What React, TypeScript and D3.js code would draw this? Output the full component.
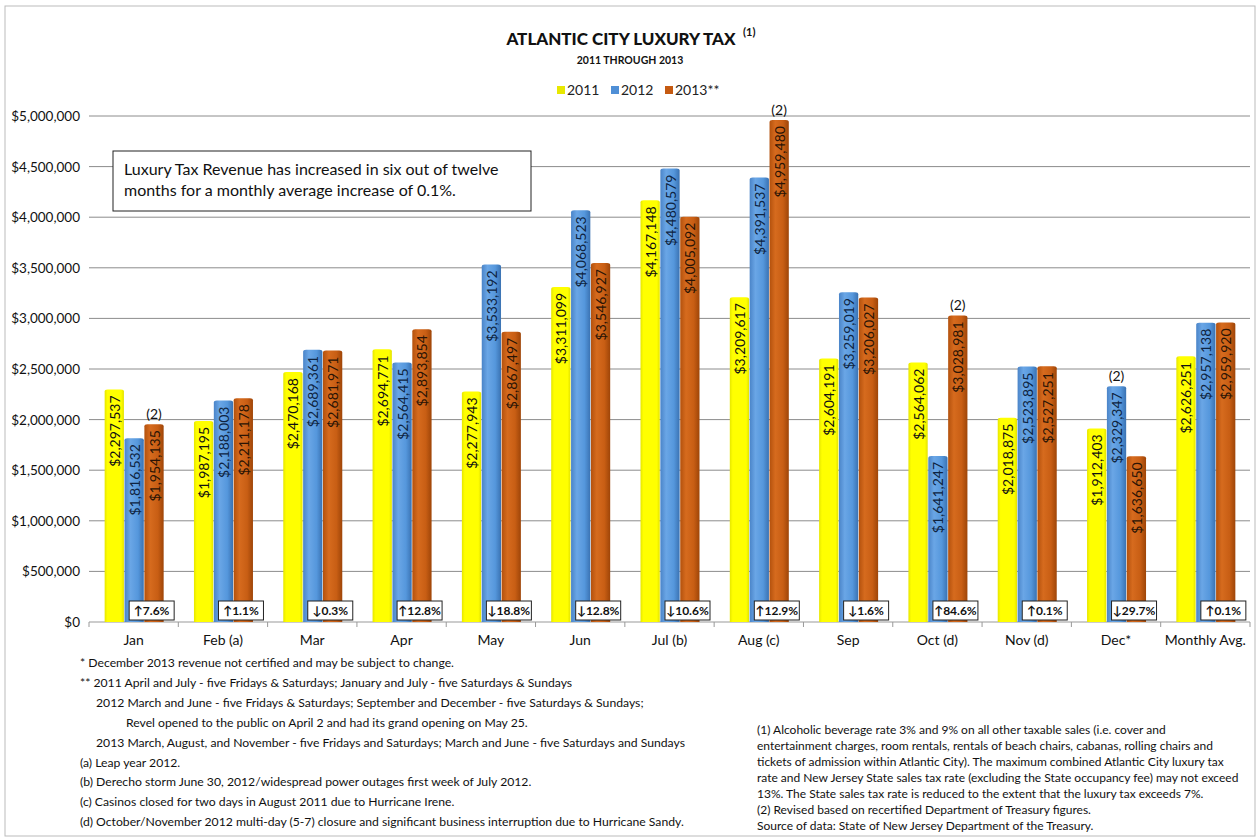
import * as d3 from 'd3';

const categories = ['Jan', 'Feb (a)', 'Mar', 'Apr', 'May', 'Jun', 'Jul (b)', 'Aug (c)', 'Sep', 'Oct (d)', 'Nov  (d)', 'Dec*', 'Monthly Avg.'];
const years = ['2011', '2012', '2013'];
const legendLabels = ['2011', '2012', '2013**'];
const values2011 = [2297537, 1987195, 2470168, 2694771, 2277943, 3311099, 4167148, 3209617, 2604191, 2564062, 2018875, 1912403, 2626251];
const values2012 = [1816532, 2188003, 2689361, 2564415, 3533192, 4068523, 4480579, 4391537, 3259019, 1641247, 2523895, 2329347, 2957138];
const values2013 = [1954135, 2211178, 2681971, 2893854, 2867497, 3546927, 4005092, 4959480, 3206027, 3028981, 2527251, 1636650, 2959920];
const changes = ['↑7.6%', '↑1.1%', '↓0.3%', '↑12.8%', '↓18.8%', '↓12.8%', '↓10.6%', '↑12.9%', '↓1.6%', '↑84.6%', '↑0.1%', '↓29.7%', '↑0.1%'];
// [category index, year index] of figures revised (2)
const revised = [[0, 2], [7, 2], [9, 2], [11, 1]];
const yTicks = d3.range(0, 5000001, 500000);

const notesLeft = [
  { x: 80, t: '* December 2013  revenue not certified and may be subject to change.' },
  { x: 80, t: '** 2011  April and July - five Fridays & Saturdays; January and July - five Saturdays & Sundays' },
  { x: 96, t: '2012  March  and June - five Fridays & Saturdays; September and December - five Saturdays & Sundays;' },
  { x: 126, t: 'Revel opened to the public on April 2 and had its grand opening on May 25.' },
  { x: 96, t: '2013  March, August, and November - five Fridays and Saturdays; March  and June - five Saturdays and Sundays' },
  { x: 80, t: '(a) Leap year 2012.' },
  { x: 80, t: '(b) Derecho storm June 30, 2012/widespread power outages first week of July 2012.' },
  { x: 80, t: '(c) Casinos closed for two days in August 2011  due to Hurricane Irene.' },
  { x: 80, t: '(d) October/November 2012  multi-day (5-7) closure and significant business interruption due to Hurricane Sandy.' },
];
const notesRight = [
  '(1) Alcoholic beverage rate 3% and 9% on all other taxable sales (i.e. cover and',
  'entertainment charges, room rentals, rentals of beach chairs, cabanas, rolling chairs and',
  'tickets of admission within Atlantic City). The maximum combined Atlantic City luxury tax',
  'rate and New Jersey State sales tax rate (excluding the State occupancy  fee) may not exceed',
  '13%.  The State sales tax rate is reduced to the extent that the luxury tax exceeds 7%.',
  '(2) Revised based on recertified Department of Treasury figures.',
  'Source of data:  State of New Jersey Department of the Treasury.',
];

const W = 1260;
const H = 838;
const FONT = 'Lato, "Open Sans", sans-serif';

export default function App() {
  const series = [values2011, values2012, values2013];
  const x = d3.scaleBand().domain(categories).range([89, 1250]);
  const y = d3.scaleLinear().domain([0, 5000000]).range([622, 116]);
  const inner = d3.scaleBand().domain(years).range([-29, 30]).paddingInner(0.03);
  const fmt = d3.format(',');
  const fills = ['url(#gY)', 'url(#gB)', 'url(#gO)'];
  const labelColors = ['#111', '#0e2441', '#2a1405'];
  const legendColors = ['#e8e800', '#4f8fd6', '#c55a11'];
  const legendX = [557, 611, 665];

  return (
    <svg width={W} height={H} style={{ position: 'absolute', left: 0, top: 0, background: '#fff', whiteSpace: 'pre' }} fontFamily={FONT}>
      <defs>
        <linearGradient id="gY" x1="0" x2="1" y1="0" y2="0">
          <stop offset="0" stopColor="#e6e600" />
          <stop offset="0.15" stopColor="#ffff00" />
          <stop offset="0.85" stopColor="#ffff00" />
          <stop offset="1" stopColor="#e2e200" />
        </linearGradient>
        <linearGradient id="gB" x1="0" x2="1" y1="0" y2="0">
          <stop offset="0" stopColor="#4a84c8" />
          <stop offset="0.3" stopColor="#6aa6e6" />
          <stop offset="0.7" stopColor="#5597dc" />
          <stop offset="1" stopColor="#3a72b2" />
        </linearGradient>
        <linearGradient id="gO" x1="0" x2="1" y1="0" y2="0">
          <stop offset="0" stopColor="#b3510d" />
          <stop offset="0.3" stopColor="#d66b1e" />
          <stop offset="0.7" stopColor="#c85e14" />
          <stop offset="1" stopColor="#9e4508" />
        </linearGradient>
      </defs>
      <rect x={5} y={6} width={W - 10} height={H - 8} fill="#fff" stroke="#bbb" />

      {/* title */}
      <text x={621} y={45} textAnchor="middle" fontWeight="900" fontSize={17} fill="#111">ATLANTIC CITY LUXURY TAX</text>
      <text x={743} y={36} fontWeight="bold" fontSize={11} fill="#111">(1)</text>
      <text x={630} y={64} textAnchor="middle" fontWeight="bold" fontSize={10.5} fill="#111">2011  THROUGH  2013</text>

      {/* legend */}
      {legendLabels.map((l, i) => (
        <g key={l}>
          <rect x={legendX[i]} y={86} width={8} height={8} fill={legendColors[i]} />
          <text x={legendX[i] + 10} y={95} fontSize={14} fill="#222">{l}</text>
        </g>
      ))}

      {/* grid + y axis */}
      {yTicks.map((t) => (
        <g key={t}>
          <line x1={89} x2={1250} y1={y(t)} y2={y(t)} stroke={t === 0 ? '#999' : '#8c8c8c'} strokeWidth={1} />
          <text x={80} y={y(t) + 5} textAnchor="end" fontSize={13.5} fill="#111">{'$' + fmt(t)}</text>
        </g>
      ))}
      {categories.map((c) => (
        <line key={c} x1={x(c)} x2={x(c)} y1={622} y2={627} stroke="#999" />
      ))}
      <line x1={1250} x2={1250} y1={622} y2={627} stroke="#999" />

      {/* textbox */}
      <rect x={113} y={151} width={418} height={60} fill="#fff" stroke="#222" />
      <text x={124} y={175} fontSize={16} fill="#111">Luxury Tax Revenue has increased in six out of twelve</text>
      <text x={124} y={196} fontSize={16} fill="#111">months for a monthly average increase of 0.1%.</text>

      {/* bars */}
      {categories.map((c, ci) => {
        const cx = (x(c) as number) + x.bandwidth() / 2;
        return (
          <g key={c}>
            {series.map((s, si) => {
              const bx = cx + (inner(years[si]) as number);
              const bw = inner.bandwidth();
              const top = y(s[ci]);
              return (
                <g key={si}>
                  <path
                    d={`M${bx},622V${top + 2}Q${bx},${top} ${bx + 3},${top}H${bx + bw - 3}Q${bx + bw},${top} ${bx + bw},${top + 2}V622Z`}
                    fill={fills[si]}
                  />
                  <text
                    transform={`translate(${bx + bw / 2},${top + 6}) rotate(-90)`}
                    textAnchor="end"
                    dominantBaseline="central"
                    fontSize={14}
                    fill={labelColors[si]}
                  >
                    {'$' + fmt(s[ci])}
                  </text>
                </g>
              );
            })}
            <text x={cx} y={645} textAnchor="middle" fontSize={14} fill="#111">{c}</text>
          </g>
        );
      })}

      {/* revised markers */}
      {revised.map(([ci, si]) => {
        const cx = (x(categories[ci]) as number) + x.bandwidth() / 2 + (inner(years[si]) as number) + inner.bandwidth() / 2;
        return (
          <text key={`${ci}-${si}`} x={cx} y={y(series[si][ci]) - 5} textAnchor="middle" fontSize={14} fill="#111">(2)</text>
        );
      })}

      {/* change boxes */}
      {categories.map((c, ci) => {
        const cx = (x(c) as number) + x.bandwidth() / 2 + 18;
        return (
          <g key={c}>
            <rect x={cx - 22.5} y={601} width={45} height={19} fill="#fff" stroke="#222" />
            <text x={cx} y={615} textAnchor="middle" fontWeight="bold" fontSize={12} fill="#111">{changes[ci]}</text>
          </g>
        );
      })}

      {/* footnotes */}
      {notesLeft.map((n, i) => (
        <text key={i} x={n.x} y={667 + i * 19.9} fontSize={12.2} fill="#111">{n.t}</text>
      ))}
      {notesRight.map((t, i) => (
        <text key={i} x={757} y={734 + i * 16} fontSize={12} fill="#111">{t}</text>
      ))}
    </svg>
  );
}
